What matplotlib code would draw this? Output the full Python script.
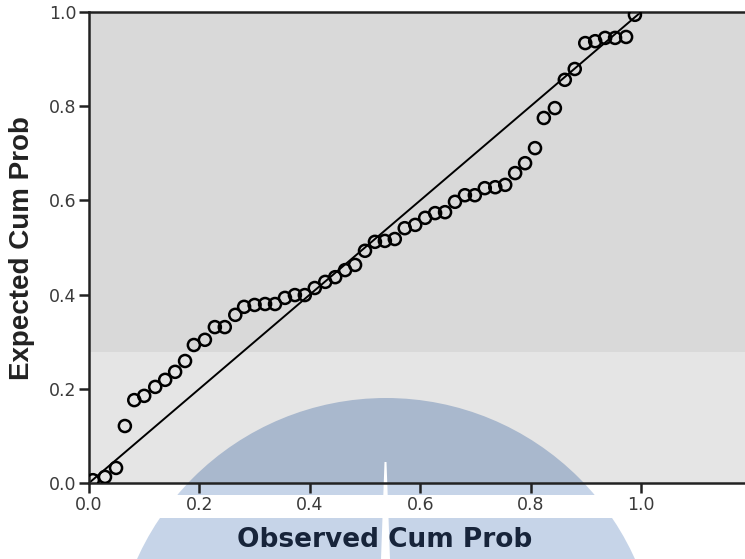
import matplotlib
matplotlib.use("Agg")
import matplotlib.pyplot as plt
import matplotlib.patches as mpatches

# P-P plot: observed vs expected cumulative probability
observed = [0.007, 0.029, 0.049, 0.065, 0.082, 0.100, 0.120, 0.138, 0.156, 0.174,
            0.190, 0.210, 0.228, 0.246, 0.265, 0.281, 0.300, 0.319, 0.337, 0.355,
            0.373, 0.391, 0.409, 0.428, 0.446, 0.464, 0.482, 0.500, 0.518, 0.536,
            0.554, 0.572, 0.591, 0.609, 0.627, 0.645, 0.663, 0.681, 0.699, 0.717,
            0.736, 0.754, 0.772, 0.790, 0.808, 0.824, 0.844, 0.862, 0.880, 0.899,
            0.917, 0.935, 0.953, 0.973, 0.989]
expected = [0.006, 0.013, 0.032, 0.121, 0.176, 0.185, 0.204, 0.219, 0.236, 0.259,
            0.293, 0.304, 0.331, 0.331, 0.357, 0.374, 0.378, 0.380, 0.380, 0.393,
            0.399, 0.399, 0.414, 0.427, 0.437, 0.452, 0.463, 0.493, 0.512, 0.514,
            0.518, 0.541, 0.548, 0.563, 0.573, 0.575, 0.597, 0.611, 0.611, 0.626,
            0.628, 0.633, 0.658, 0.679, 0.711, 0.775, 0.796, 0.856, 0.879, 0.934,
            0.938, 0.945, 0.945, 0.947, 0.994]
ref_line = [0.0, 1.0]
ticks = [0.0, 0.2, 0.4, 0.6, 0.8, 1.0]

W, H = 745, 559
fig = plt.figure(figsize=(W / 100, H / 100), dpi=100)

# --- background layer in pixel coords (grey plot area + watermark) ---
bg = fig.add_axes([0, 0, 1, 1], zorder=0)
bg.set_xlim(0, W)
bg.set_ylim(H, 0)
bg.axis("off")

cx, cy, r = 386, 671, 273
bg.add_patch(mpatches.Circle((cx, cy), r, color="#c6d4e8", lw=0))
plot_rect = mpatches.Rectangle((89, 12), W - 89, 471, color="#d9d9d9", lw=0)
bg.add_patch(plot_rect)
bg.add_patch(mpatches.Rectangle((89, 352), W - 89, 131, color="#e5e5e5", lw=0))
inner = mpatches.Circle((cx, cy), r, color="#a9b8cd", lw=0)
bg.add_patch(inner)
inner.set_clip_path(plot_rect)
# white band behind tick labels
bg.add_patch(mpatches.Rectangle((0, 495), W, 23, color="white", lw=0))
# notch in the watermark
bg.add_patch(mpatches.Polygon([(384.5, 462), (386.5, 462), (390, 559), (381, 559)],
                              color="white", lw=0))

# --- main plot ---
ax = fig.add_axes([89 / W, 76 / H, 1 - 89 / W, 471 / H], zorder=1)
ax.patch.set_alpha(0)
ax.plot(ref_line, ref_line, color="black", lw=1.4, zorder=2)
ax.scatter(observed, expected, s=75, facecolors="none", edgecolors="black",
           linewidths=1.8, zorder=3)

ax.set_xlim(0, 656 / 552)
ax.set_ylim(0, 1)
ax.set_xticks(ticks)
ax.set_yticks(ticks)
ax.set_xticklabels([f"{t:.1f}" for t in ticks])
ax.set_yticklabels([f"{t:.1f}" for t in ticks])
ax.tick_params(direction="out", length=7, width=1.8, color="#222222",
               labelsize=12.5, labelcolor="#3a3a3a", pad=2)
for s in ["left", "bottom", "top"]:
    ax.spines[s].set_linewidth(1.8)
    ax.spines[s].set_color("#222222")
ax.spines["right"].set_visible(False)

fig.text(385 / W, 1 - 540 / H, "Observed Cum Prob", ha="center", va="center",
         fontsize=19, fontweight="bold", color="#17243a")
fig.text(22 / W, 1 - 248 / H, "Expected Cum Prob", ha="center", va="center",
         rotation=90, fontsize=20, fontweight="bold", color="#222222",
         family="Liberation Sans")

fig.savefig("out.png", dpi=100)
